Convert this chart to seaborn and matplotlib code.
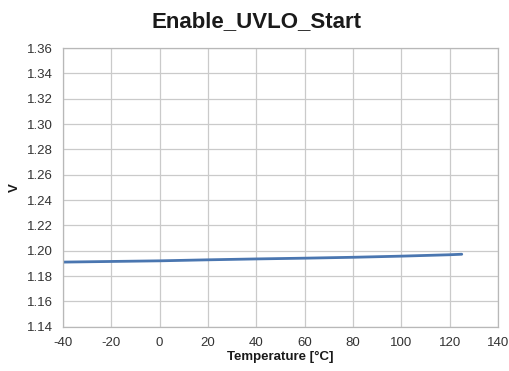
import matplotlib
matplotlib.use("Agg")
import matplotlib.pyplot as plt
import seaborn as sns
import pandas as pd

temperature_c = [-40, -20, 0, 20, 40, 60, 80, 100, 120, 125]
voltage_v = [1.1910, 1.1915, 1.1920, 1.1928, 1.1935, 1.1941, 1.1948, 1.1957, 1.1968, 1.1972]
x_ticks = [-40, -20, 0, 20, 40, 60, 80, 100, 120, 140]
y_ticks = [1.14, 1.16, 1.18, 1.20, 1.22, 1.24, 1.26, 1.28, 1.30, 1.32, 1.34, 1.36]

sns.set_theme(style="whitegrid")
plt.rcParams["font.family"] = ["Liberation Sans", "DejaVu Sans"]

df = pd.DataFrame({"Temperature": temperature_c, "V": voltage_v})

fig = plt.figure(figsize=(5.10, 3.71), dpi=100)
ax = fig.add_axes([0.1235, 0.1194, 0.853, 0.7512])

sns.lineplot(data=df, x="Temperature", y="V", ax=ax, color="#4A76B0", linewidth=2.0)

ax.set_xlim(-40, 140)
ax.set_ylim(1.14, 1.36)
ax.set_xticks(x_ticks)
ax.set_yticks(y_ticks)
ax.set_xticklabels([str(t) for t in x_ticks])
ax.set_yticklabels([f"{t:.2f}" for t in y_ticks])
ax.grid(True, color="#cacaca", linewidth=0.9)
for s in ax.spines.values():
    s.set_color("#b8b8b8")
    s.set_linewidth(0.9)
ax.tick_params(axis="both", labelsize=9.5, labelcolor="#333333", length=4,
               width=0.8, direction="out", pad=3.5, color="#a8a8a8")

ax.set_xlabel("Temperature [°C]", fontsize=9.5, fontweight="bold", color="#1a1a1a", labelpad=1)
ax.set_ylabel("V", fontsize=9.5, fontweight="bold", color="#1a1a1a", labelpad=4)
fig.suptitle("Enable_UVLO_Start", fontsize=16, fontweight="bold", color="#1a1a1a",
             y=0.97, x=0.503)

fig.savefig("out.png", dpi=100)
